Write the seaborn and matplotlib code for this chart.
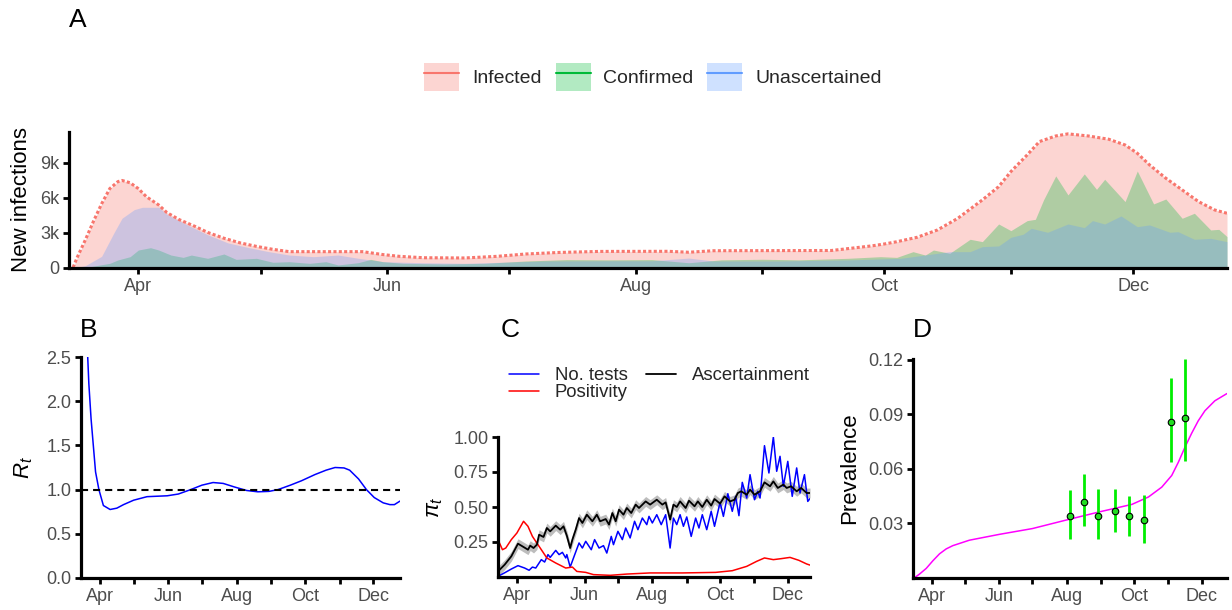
import numpy as np
import pandas as pd
import matplotlib
matplotlib.use("Agg")
import matplotlib.pyplot as plt
import matplotlib.dates as mdates
from matplotlib.patches import Patch
from matplotlib.lines import Line2D
from matplotlib.ticker import FuncFormatter
import seaborn as sns

YEAR = "2020-"

# ---------------- Panel A: new infections (counts) ----------------
inf_dates = ["03-16", "03-17", "03-19", "03-21", "03-23", "03-25", "03-27", "03-28", "03-30",
             "04-01", "04-03", "04-06", "04-08", "04-11", "04-15", "04-18", "04-22", "04-26", "04-30",
             "05-04", "05-08", "05-26", "05-31", "06-04", "06-10", "06-20", "06-28",
             "07-05", "07-13", "07-23", "08-09", "08-14", "08-20", "09-18", "09-23", "09-28",
             "10-01", "10-04", "10-09", "10-14", "10-19", "10-25", "10-29",
             "11-01", "11-05", "11-08", "11-12", "11-15", "11-20", "11-25", "11-29",
             "12-02", "12-05", "12-09", "12-13", "12-17", "12-21", "12-24"]
infected = [50, 900, 2400, 4000, 5500, 6800, 7400, 7500, 7300,
            6800, 6100, 5400, 4750, 4150, 3550, 3050, 2550, 2150, 1850,
            1600, 1400, 1400, 1150, 1000, 880, 860, 1000,
            1200, 1330, 1420, 1430, 1350, 1480, 1500, 1700, 1900,
            2060, 2250, 2630, 3260, 4260, 5830, 6970,
            8260, 9690, 10830, 11310, 11490, 11310, 11030, 10540,
            9830, 8830, 7690, 6690, 5690, 4970, 4690]

conf_dates = ["03-16", "03-20", "03-25", "03-27", "03-30",
              "04-01", "04-04", "04-06", "04-09", "04-12", "04-14", "04-18", "04-22", "04-25", "04-30",
              "05-04", "05-08", "05-13", "05-17", "05-20", "05-25", "05-28", "05-31",
              "06-05", "06-15", "06-25", "07-05", "07-15", "07-25", "08-05", "08-14", "08-22",
              "09-01", "09-10", "09-22", "09-30",
              "10-04", "10-08", "10-11", "10-13", "10-17", "10-22", "10-25", "10-29",
              "11-01", "11-05", "11-07", "11-09", "11-12", "11-15", "11-19", "11-22", "11-24", "11-29",
              "12-02", "12-06", "12-09", "12-13", "12-16", "12-20", "12-22", "12-24"]
confirmed = [0, 100, 400, 690, 970,
             1540, 1740, 1540, 1110, 910, 1110, 830, 1200, 740, 830,
             490, 540, 400, 540, 260, 460, 740, 540,
             400, 350, 400, 600, 720, 700, 720, 450, 700,
             750, 700, 830, 970,
             910, 1400, 1110, 1540, 1260, 2460, 2260, 3770,
             3200, 4060, 4170, 5830, 7890, 6260, 8060, 6740, 7600, 5690,
             8310, 5490, 5910, 4260, 4690, 3260, 3310, 2690]

unasc_dates = ["03-16", "03-19", "03-23", "03-26", "03-28", "03-31",
               "04-02", "04-06", "04-08", "04-13", "04-18", "04-23", "04-28",
               "05-03", "05-08", "05-14", "05-20", "05-25", "05-31",
               "06-10", "06-20", "06-30", "07-10", "07-25", "08-05", "08-14", "08-20",
               "09-05", "09-22", "10-05", "10-17", "10-22", "10-25", "10-29",
               "11-01", "11-04", "11-06", "11-10", "11-15", "11-19", "11-21", "11-24", "11-28",
               "12-02", "12-05", "12-10", "12-12", "12-16", "12-20", "12-24"]
unascertained = [0, 200, 1000, 3000, 4260, 5000,
                 5200, 5200, 4600, 3700, 2850, 2150, 1750,
                 1400, 1110, 970, 1110, 830, 540,
                 450, 400, 500, 600, 620, 620, 850, 600,
                 600, 690, 830, 1400, 1400, 1830, 1890,
                 2630, 2890, 3400, 3060, 3770, 3460, 4060, 3770, 4460,
                 3540, 3690, 3060, 3110, 2460, 2540, 2260]

a_yticks = [0, 3000, 6000, 9000]
a_yticklabels = ["0", "3k", "6k", "9k"]
a_legend_labels = ["Infected", "Confirmed", "Unascertained"]

# ---------------- Panel B: reproduction number ----------------
rt_dates = ["03-15", "03-18", "03-21", "03-22", "03-24", "03-26", "03-28", "03-31",
            "04-04", "04-10", "04-16", "04-22", "05-01", "05-13", "05-31",
            "06-10", "06-21", "07-01", "07-11", "07-20", "07-30", "08-10", "08-20", "08-30",
            "09-07", "09-18", "09-28", "10-10", "10-20", "10-28", "11-05", "11-10", "11-18",
            "11-25", "12-02", "12-10", "12-16", "12-20", "12-25"]
rt = [4.5, 3.3, 2.5, 2.2, 1.8, 1.5, 1.2, 1.0,
      0.82, 0.775, 0.79, 0.83, 0.88, 0.92, 0.93,
      0.95, 1.0, 1.05, 1.08, 1.07, 1.03, 0.99, 0.975, 0.98,
      1.0, 1.05, 1.1, 1.17, 1.22, 1.25, 1.245, 1.22, 1.12,
      1.0, 0.91, 0.85, 0.83, 0.83, 0.87]

# ---------------- Panel C: ascertainment ----------------
tests_dates = ["03-15", "03-21", "03-27",
               "04-02", "04-08", "04-12", "04-15", "04-18", "04-23", "04-26", "04-29",
               "05-01", "05-06", "05-09", "05-12", "05-15", "05-16", "05-19", "05-22", "05-27", "05-30",
               "06-02", "06-07", "06-10", "06-14", "06-18", "06-21", "06-25", "06-27",
               "07-01", "07-05", "07-08", "07-12", "07-16", "07-19", "07-23", "07-27", "07-29",
               "08-01", "08-05", "08-09", "08-13", "08-17", "08-20", "08-23", "08-26", "08-29",
               "09-01", "09-05", "09-09", "09-12", "09-15", "09-19", "09-23", "09-26",
               "10-01", "10-04", "10-08", "10-12", "10-15", "10-18", "10-21", "10-25", "10-28",
               "11-01", "11-04", "11-06", "11-10", "11-14", "11-18", "11-21", "11-24", "11-27",
               "12-01", "12-05", "12-09", "12-12", "12-16", "12-19", "12-21"]
no_tests = [0.005, 0.03, 0.057,
            0.081, 0.064, 0.048, 0.071, 0.064, 0.124, 0.107, 0.16,
            0.14, 0.19, 0.16, 0.176, 0.136, 0.16, 0.071, 0.136, 0.243, 0.207,
            0.255, 0.195, 0.267, 0.207, 0.224, 0.171, 0.29, 0.231,
            0.326, 0.267, 0.35, 0.279, 0.398, 0.338, 0.421, 0.374, 0.433,
            0.386, 0.445, 0.374, 0.445, 0.207, 0.421, 0.374, 0.445, 0.362,
            0.429, 0.29, 0.421, 0.35, 0.445, 0.338, 0.469, 0.362,
            0.533, 0.433, 0.595, 0.469, 0.576, 0.438, 0.676, 0.564, 0.731,
            0.552, 0.612, 0.564, 0.938, 0.743, 1.0, 0.755, 0.862, 0.648,
            0.826, 0.576, 0.779, 0.6, 0.731, 0.54, 0.56]

pos_dates = ["03-15", "03-19", "03-22", "03-27",
             "04-01", "04-07", "04-11", "04-15", "04-21", "04-28",
             "05-06", "05-15", "05-21", "05-25", "06-02", "06-09", "06-24",
             "07-09", "07-30", "08-28", "09-27", "10-12", "10-25",
             "11-03", "11-10", "11-18", "11-25", "12-03", "12-11", "12-18", "12-21"]
positivity = [0.267, 0.195, 0.207, 0.267,
              0.314, 0.398, 0.362, 0.29, 0.219, 0.136,
              0.1, 0.064, 0.071, 0.04, 0.033, 0.017, 0.012,
              0.021, 0.029, 0.029, 0.033, 0.045, 0.076,
              0.112, 0.136, 0.124, 0.131, 0.14, 0.119, 0.093, 0.085]

asc_dates = ["03-15", "03-21", "03-27",
             "04-02", "04-06", "04-11", "04-13", "04-16", "04-19", "04-21", "04-25", "04-28",
             "05-01", "05-06", "05-10", "05-13", "05-16", "05-19", "05-21", "05-24", "05-27", "05-30",
             "06-03", "06-08", "06-12", "06-15", "06-20", "06-23", "06-26", "06-29",
             "07-02", "07-06", "07-09", "07-13", "07-17", "07-20", "07-26", "07-30",
             "08-05", "08-10", "08-13", "08-17", "08-20", "08-23", "08-26", "08-31",
             "09-03", "09-08", "09-11", "09-15", "09-19", "09-23", "09-26",
             "10-01", "10-05", "10-10", "10-14", "10-17", "10-20", "10-25", "10-28",
             "11-01", "11-06", "11-10", "11-15", "11-18", "11-22", "11-27", "11-30",
             "12-04", "12-09", "12-13", "12-18", "12-21"]
ascertainment = [0.04, 0.088, 0.148,
                 0.238, 0.219, 0.195, 0.224, 0.207, 0.231, 0.302, 0.286, 0.35,
                 0.326, 0.367, 0.338, 0.362, 0.295, 0.207, 0.267, 0.338, 0.421, 0.386,
                 0.445, 0.398, 0.445, 0.398, 0.414, 0.374, 0.457, 0.398,
                 0.481, 0.445, 0.493, 0.457, 0.517, 0.493, 0.54, 0.517,
                 0.552, 0.517, 0.533, 0.41, 0.517, 0.5, 0.54, 0.493,
                 0.545, 0.505, 0.54, 0.5, 0.552, 0.51, 0.557,
                 0.524, 0.576, 0.54, 0.552, 0.6, 0.612, 0.588, 0.624,
                 0.588, 0.612, 0.676, 0.648, 0.683, 0.636, 0.66, 0.636,
                 0.648, 0.612, 0.636, 0.6, 0.6]
asc_ci_halfwidth = 0.035
c_legend_labels = ["No. tests", "Positivity", "Ascertainment"]

# ---------------- Panel D: prevalence ----------------
prev_dates = ["03-16", "03-21", "03-27", "04-02", "04-08", "04-14", "04-20", "05-05",
              "06-01", "07-01", "07-31", "08-30", "09-29", "10-14", "10-26", "11-04",
              "11-10", "11-16", "11-22", "11-28", "12-04", "12-13", "12-24"]
prevalence = [0.0, 0.0022, 0.0053, 0.0095, 0.0133, 0.016, 0.0178, 0.0208,
              0.024, 0.0272, 0.0318, 0.0363, 0.0405, 0.0446, 0.05, 0.0564,
              0.0637, 0.072, 0.0796, 0.0865, 0.092, 0.0975, 0.1015]

svy_dates = ["08-04", "08-17", "08-29", "09-14", "09-26", "10-10", "11-03", "11-16"]
svy_mid = [0.034, 0.0418, 0.034, 0.0369, 0.034, 0.0321, 0.0858, 0.088]
svy_lo = [0.0214, 0.0285, 0.0214, 0.0254, 0.023, 0.0194, 0.0637, 0.0643]
svy_hi = [0.0482, 0.0573, 0.049, 0.049, 0.0449, 0.0455, 0.11, 0.1203]


def to_dt(lst):
    return pd.to_datetime([YEAR + s for s in lst])


RED = "#F8766D"
GREEN = "#00BA38"
BLUE = "#619CFF"
TICK_COLOR = "#4D4D4D"

sns.set_theme(style="ticks")
plt.rcParams["font.family"] = ["Liberation Sans", "DejaVu Sans"]
plt.rcParams["mathtext.fontset"] = "custom"
plt.rcParams["mathtext.rm"] = "Liberation Sans"
plt.rcParams["mathtext.it"] = "Liberation Sans:italic"

W, H = 1232, 610
fig = plt.figure(figsize=(W / 100, H / 100), dpi=100)


def rect(l, t, r, b):
    return [l / W, 1 - b / H, (r - l) / W, (b - t) / H]


ax_a = fig.add_axes(rect(69, 132, 1227, 268))
ax_b = fig.add_axes(rect(81, 357, 400, 578))
ax_c = fig.add_axes(rect(498, 437, 810, 577))
ax_d = fig.add_axes(rect(913, 359, 1227, 578))

SHOW = (4, 6, 8, 10, 12)


def month_fmt(x, pos):
    dt = mdates.num2date(x)
    return dt.strftime("%b") if dt.month in SHOW else ""


def style_ax(ax):
    for s in ["top", "right"]:
        ax.spines[s].set_visible(False)
    for s in ["left", "bottom"]:
        ax.spines[s].set_linewidth(2.3)
        ax.spines[s].set_color("black")
    ax.tick_params(axis="both", which="both", length=4.0, width=2.0, color="black",
                   labelcolor=TICK_COLOR, labelsize=13, pad=3)
    ax.xaxis.set_major_locator(mdates.MonthLocator())
    ax.xaxis.set_major_formatter(FuncFormatter(month_fmt))
    ax.set_xlabel("")
    ax.grid(False)


# ---- Panel A ----
inf_dt, conf_dt, un_dt = to_dt(inf_dates), to_dt(conf_dates), to_dt(unasc_dates)
ax_a.fill_between(inf_dt, 0, infected, color=RED, alpha=0.3, linewidth=0)
ax_a.fill_between(conf_dt, 0, confirmed, color=GREEN, alpha=0.3, linewidth=0)
ax_a.fill_between(un_dt, 0, unascertained, color=BLUE, alpha=0.3, linewidth=0)
sns.lineplot(x=inf_dt, y=infected, ax=ax_a, color=RED, linewidth=2.2,
             linestyle=(0, (1.0, 0.75)))
ax_a.set_xlim(pd.Timestamp("2020-03-15"), pd.Timestamp("2020-12-24"))
ax_a.set_ylim(0, 11650)
ax_a.set_yticks(a_yticks)
ax_a.set_yticklabels(a_yticklabels)
style_ax(ax_a)
ax_a.set_ylabel("New infections", fontsize=16, color="black", labelpad=6)

handles = [(Patch(facecolor=c, alpha=0.3, edgecolor="none"),
            Line2D([], [], color=c, linewidth=1.5)) for c in (RED, GREEN, BLUE)]
fig.legend(handles, a_legend_labels, loc="center", bbox_to_anchor=(653 / W, 1 - 77 / H),
           ncol=3, frameon=False, fontsize=14, handlelength=1.8, handleheight=1.8,
           handletextpad=0.65, columnspacing=0.72, borderpad=0)

# ---- Panel B ----
sns.lineplot(x=to_dt(rt_dates), y=rt, ax=ax_b, color="#0000FF", linewidth=1.1)
ax_b.axhline(1.0, color="black", linewidth=1.5, linestyle=(0, (3.4, 2.4)))
ax_b.set_xlim(pd.Timestamp("2020-03-15"), pd.Timestamp("2020-12-25"))
ax_b.set_ylim(0, 2.5)
ax_b.set_yticks([0.0, 0.5, 1.0, 1.5, 2.0, 2.5])
ax_b.set_yticklabels(["0.0", "0.5", "1.0", "1.5", "2.0", "2.5"])
style_ax(ax_b)
ax_b.set_ylabel(r"$R_t$", fontsize=16, color="black", labelpad=8)

# ---- Panel C ----
asc_dt = to_dt(asc_dates)
asc_arr = np.array(ascertainment)
ax_c.fill_between(asc_dt, asc_arr - asc_ci_halfwidth, asc_arr + asc_ci_halfwidth,
                  color="#BDBDBD", linewidth=0)
sns.lineplot(x=to_dt(tests_dates), y=no_tests, ax=ax_c, color="#0000FF", linewidth=1.1,
             label=c_legend_labels[0])
sns.lineplot(x=to_dt(pos_dates), y=positivity, ax=ax_c, color="#FF0000", linewidth=1.1,
             label=c_legend_labels[1])
sns.lineplot(x=asc_dt, y=ascertainment, ax=ax_c, color="black", linewidth=1.3,
             label=c_legend_labels[2])
ax_c.set_xlim(pd.Timestamp("2020-03-15"), pd.Timestamp("2020-12-21"))
ax_c.set_ylim(0, 1.0)
ax_c.set_yticks([0.25, 0.5, 0.75, 1.0])
ax_c.set_yticklabels(["0.25", "0.50", "0.75", "1.00"])
style_ax(ax_c)
ax_c.set_ylabel(r"$\pi_t$", fontsize=16, color="black", labelpad=6)
hl, lb = ax_c.get_legend_handles_labels()
ax_c.legend(hl, lb, loc="upper left", bbox_to_anchor=(509 / W, 1 - 367 / H),
            bbox_transform=fig.transFigure, ncol=2, frameon=False, fontsize=13.3,
            handlelength=1.62, handletextpad=0.86, columnspacing=1.0, labelspacing=0.0,
            borderpad=0, borderaxespad=0)

# ---- Panel D ----
sns.lineplot(x=to_dt(prev_dates), y=prevalence, ax=ax_d, color="#FF00FF", linewidth=1.1)
svy_dt = to_dt(svy_dates)
ax_d.vlines(svy_dt, svy_lo, svy_hi, color="#00EE00", linewidth=2.0, zorder=3)
sns.scatterplot(x=svy_dt, y=svy_mid, ax=ax_d, color="#22DD22", edgecolor="black",
                linewidth=0.8, s=22, zorder=4)
ax_d.set_xlim(pd.Timestamp("2020-03-15"), pd.Timestamp("2020-12-24"))
ax_d.set_ylim(0, 0.1205)
ax_d.set_yticks([0.03, 0.06, 0.09, 0.12])
ax_d.set_yticklabels(["0.03", "0.06", "0.09", "0.12"])
style_ax(ax_d)
ax_d.set_ylabel("Prevalence", fontsize=16, color="black", labelpad=6)

# ---- panel letters ----
for letter, (x, y) in {"A": (78, 20), "B": (89, 330), "C": (510, 330), "D": (922, 330)}.items():
    fig.text(x / W, 1 - y / H, letter, fontsize=19, ha="center", va="center", color="black")

fig.savefig("out.png", dpi=100)
